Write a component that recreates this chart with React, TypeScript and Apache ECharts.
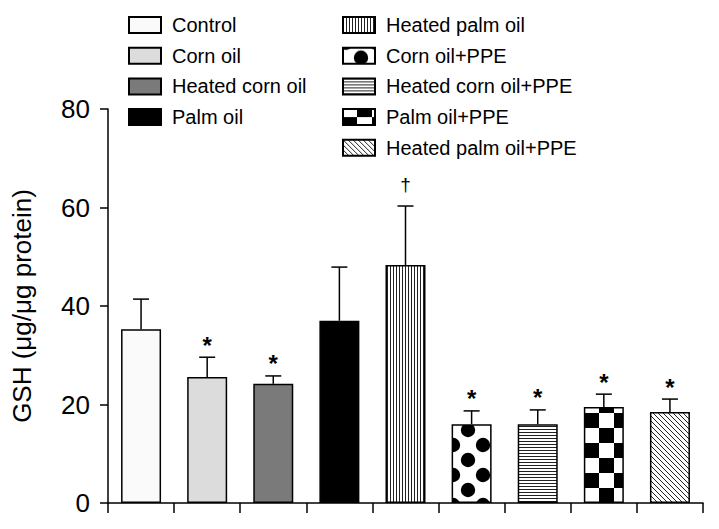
import React, { useEffect, useRef } from "react";
import * as echarts from "echarts";

const categories = [
  "Control",
  "Corn oil",
  "Heated corn oil",
  "Palm oil",
  "Heated palm oil",
  "Corn oil+PPE",
  "Heated corn oil+PPE",
  "Palm oil+PPE",
  "Heated palm oil+PPE",
];
const means = [35.3, 25.6, 24.2, 37.0, 48.3, 16.0, 16.0, 19.5, 18.5];
const upperErr = [41.4, 29.6, 25.8, 47.9, 60.3, 18.7, 18.9, 22.1, 21.1];
const marks = ["", "*", "*", "", "\u2020", "*", "*", "*", "*"];
const yTicks = [0, 20, 40, 60, 80];

const FONT = "'Liberation Sans', Arial, Helvetica, sans-serif";

function tile(w: number, h: number, draw: (ctx: CanvasRenderingContext2D) => void) {
  const c = document.createElement("canvas");
  c.width = w;
  c.height = h;
  const ctx = c.getContext("2d")!;
  ctx.fillStyle = "#ffffff";
  ctx.fillRect(0, 0, w, h);
  ctx.fillStyle = "#000000";
  draw(ctx);
  return { image: c, repeat: "repeat", imageWidth: w, imageHeight: h } as any;
}

function makeFills(): any[] {
  const vStripes = tile(3, 3, (ctx) => {
    ctx.fillStyle = "#222";
    ctx.fillRect(0, 0, 1, 3);
  });
  const dots = tile(30, 30, (ctx) => {
    const centers = [
      [18, 10],
      [3, 25],
    ];
    for (const [cx, cy] of centers) {
      for (const dx of [-30, 0, 30]) {
        for (const dy of [-30, 0, 30]) {
          ctx.beginPath();
          ctx.arc(cx + dx, cy + dy, 7.2, 0, Math.PI * 2);
          ctx.fill();
        }
      }
    }
  });
  const hStripes = tile(3, 3, (ctx) => {
    ctx.fillStyle = "#222";
    ctx.fillRect(0, 0, 3, 1);
  });
  const checker = tile(30, 30, (ctx) => {
    for (let px = 0; px < 30; px++) {
      for (let py = 0; py < 30; py++) {
        const i = Math.floor((px - 14 + 30) / 15);
        const j = Math.floor((py - 8 + 30) / 15);
        if ((i + j) % 2 === 1) ctx.fillRect(px, py, 1, 1);
      }
    }
  });
  const diag = tile(5, 5, (ctx) => {
    ctx.fillStyle = "#222";
    for (let k = 0; k < 5; k++) ctx.fillRect(k, k, 1, 1);
  });
  return ["#fafafa", "#dcdcdc", "#7a7a7a", "#000000", vStripes, dots, hStripes, checker, diag];
}

export default function App() {
  const ref = useRef<HTMLDivElement>(null);
  useEffect(() => {
    if (!ref.current) return;
    const chart = echarts.init(ref.current, null, { renderer: "svg" });
    const fills = makeFills();

    const barSeries = categories.map((name, i) => ({
      name,
      type: "bar",
      barWidth: 40,
      barGap: "-100%",
      data: categories.map((_, j) => (j === i ? means[i] : "-")),
      itemStyle: { color: fills[i], borderColor: "#000", borderWidth: 1.5 },
      z: 2,
    }));

    const errSeries = {
      type: "custom",
      name: "err",
      data: categories.map((_, i) => [i, means[i], upperErr[i], marks[i]]),
      encode: { x: 0, y: 2 },
      z: 3,
      renderItem: (params: any, api: any) => {
        const x = api.value(0);
        const top = api.coord([x, api.value(1)]);
        const hi = api.coord([x, api.value(2)]);
        const mark = marks[params.dataIndex];
        const children: any[] = [
          { type: "line", shape: { x1: top[0], y1: top[1], x2: hi[0], y2: hi[1] }, style: { stroke: "#000", lineWidth: 1.5 } },
          { type: "line", shape: { x1: hi[0] - 8, y1: hi[1], x2: hi[0] + 8, y2: hi[1] }, style: { stroke: "#000", lineWidth: 1.5 } },
        ];
        if (mark) {
          const isStar = mark === "*";
          children.push({
            type: "text",
            x: hi[0],
            y: hi[1] - (isStar ? 0 : 12),
            style: {
              text: mark,
              fontSize: isStar ? 24 : 19,
              fontWeight: isStar ? "bold" : "normal",
              fontFamily: FONT,
              fill: "#000",
              align: "center",
              verticalAlign: "bottom",
            },
          });
        }
        return { type: "group", children };
      },
    };

    const legendCommon = {
      orient: "vertical",
      itemWidth: 32,
      itemHeight: 16,
      itemGap: 10.7,
      icon: "rect",
      selectedMode: false,
      textStyle: { fontSize: 20, fontFamily: FONT, color: "#000", padding: [0, 0, 0, 6] },
    };

    chart.setOption({
      animation: false,
      backgroundColor: "#ffffff",
      textStyle: { fontFamily: FONT },
      legend: [
        { ...legendCommon, left: 123, top: 10, data: categories.slice(0, 4) },
        { ...legendCommon, left: 337, top: 10, data: categories.slice(4) },
      ],
      grid: { left: 108, right: 16, top: 109, bottom: 26, containLabel: false },
      xAxis: {
        type: "category",
        data: categories,
        axisLine: { lineStyle: { color: "#000", width: 1.5 } },
        axisTick: { show: true, interval: 0, length: 10, lineStyle: { color: "#000", width: 1.5 } },
        axisLabel: { show: false, interval: 0 },
      },
      yAxis: {
        type: "value",
        min: yTicks[0],
        max: yTicks[yTicks.length - 1],
        interval: 20,
        name: "GSH (\u03bcg/\u03bcg protein)",
        nameLocation: "middle",
        nameGap: 73,
        nameTextStyle: { fontSize: 26, color: "#000", fontFamily: FONT },
        splitLine: { show: false },
        axisLine: { show: true, lineStyle: { color: "#000", width: 1.5 } },
        axisTick: { show: true, length: 8, lineStyle: { color: "#000", width: 1.5 } },
        axisLabel: { fontSize: 26, color: "#000", margin: 18, fontFamily: FONT },
      },
      series: [...barSeries, errSeries],
    });
    return () => chart.dispose();
  }, []);
  return (
    <div
      ref={ref}
      style={{ position: "fixed", left: 0, top: 0, width: 719, height: 529, background: "#fff" }}
    />
  );
}
